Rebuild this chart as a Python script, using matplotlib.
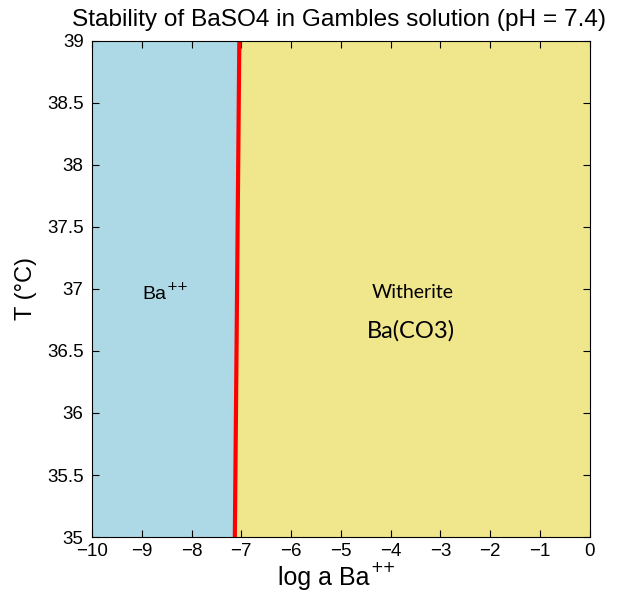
import matplotlib
matplotlib.use("Agg")
import matplotlib.pyplot as plt
import numpy as np

# Data
x_range = [-10, 0]
t_range = [35, 39]
boundary_logBa = [-7.13, -7.04]
boundary_T = [35, 39]
ba_color = "#ADD8E6"
witherite_color = "#F0E68C"

plt.rcParams['font.family'] = ['Liberation Sans', 'DejaVu Sans']

fig = plt.figure(figsize=(6.17, 5.93), dpi=100)
ax = fig.add_axes([0.149, 0.0944, 0.807, 0.8366])

# Regions
ax.fill_betweenx(boundary_T, [x_range[0]] * 2, boundary_logBa, color=ba_color, lw=0)
ax.fill_betweenx(boundary_T, boundary_logBa, [x_range[1]] * 2, color=witherite_color, lw=0)
ax.plot(boundary_logBa, boundary_T, color="red", lw=3)

ax.set_xlim(x_range)
ax.set_ylim(t_range)
ax.set_xticks(np.arange(-10, 0.5, 1))
ax.set_yticks(np.arange(35, 39.01, 0.5))
ax.set_yticklabels(["35", "35.5", "36", "36.5", "37", "37.5", "38", "38.5", "39"])
ax.set_xticklabels(["\u221210", "\u22129", "\u22128", "\u22127", "\u22126", "\u22125",
                    "\u22124", "\u22123", "\u22122", "\u22121", "0"])
ax.tick_params(direction="in", top=True, right=True, labelsize=13.5, length=5, width=0.8)
ax.tick_params(axis="y", pad=6)
ax.tick_params(axis="x", pad=4)
for s in ax.spines.values():
    s.set_linewidth(0.8)

ba_txt = ax.text(-8.996, 36.92, "Ba", ha="left", va="baseline", fontsize=14)
ax.annotate("++", xy=(1, 0), xycoords=ba_txt, xytext=(0.3, 9.0),
            textcoords="offset points", ha="left", va="baseline", fontsize=9.5,
            family="DejaVu Sans")
ax.text(-3.55, 36.93, "Witherite", ha="center", va="baseline", fontsize=14,
        family=["Lato", "DejaVu Sans"])
ax.text(-3.59, 36.605, "Ba(CO3)", ha="center", va="baseline", fontsize=17,
        family=["Lato", "DejaVu Sans"])

fig.text(339 / 617, 1 - 26 / 593, "Stability of BaSO4 in Gambles solution (pH = 7.4)",
         ha="center", va="baseline", fontsize=17.6)
xl = fig.text(278 / 617, 1 - 585 / 593, "log a Ba", ha="left", va="baseline", fontsize=18)
ax.annotate("++", xy=(1, 0), xycoords=xl, xytext=(0.3, 12.9),
            textcoords="offset points", ha="left", va="baseline", fontsize=11,
            family="DejaVu Sans")
ax.set_ylabel("T (\u00b0C)", fontsize=17, labelpad=7)

fig.savefig("out.png", dpi=100)
